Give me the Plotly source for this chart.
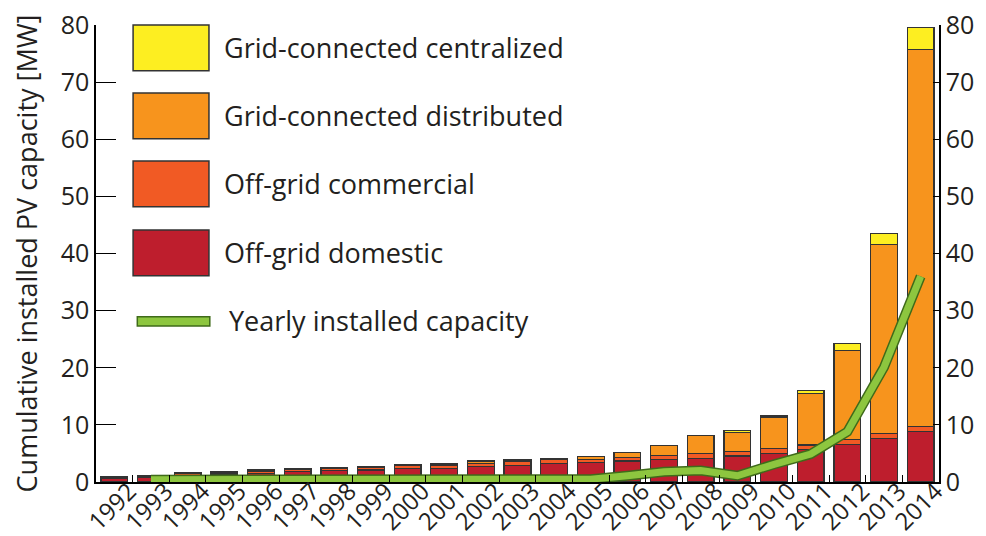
import plotly.graph_objects as go

years = [str(y) for y in range(1992, 2015)]

# cumulative installed capacity by segment [MW]
off_grid_domestic = [0.7, 0.9, 1.2, 1.4, 1.5, 1.8, 2.0, 2.1, 2.4, 2.4, 2.7, 2.9, 3.3,
                     3.4, 3.7, 3.95, 4.15, 4.55, 5.0, 5.7, 6.6, 7.65, 8.8]
off_grid_commercial = [0.2, 0.15, 0.3, 0.35, 0.4, 0.45, 0.45, 0.45, 0.6, 0.45, 0.6, 0.65, 0.6,
                       0.6, 0.65, 0.75, 0.85, 0.75, 0.9, 0.8, 0.9, 0.9, 0.9]
grid_distributed = [0.0, 0.0, 0.2, 0.15, 0.2, 0.1, 0.1, 0.2, 0.05, 0.3, 0.4, 0.3, 0.25,
                    0.5, 0.85, 1.7, 3.2, 3.4, 5.35, 9.0, 15.5, 33.0, 66.0]
grid_centralized = [0.0, 0.0, 0.0, 0.0, 0.0, 0.0, 0.0, 0.0, 0.0, 0.0, 0.0, 0.0, 0.0,
                    0.0, 0.0, 0.0, 0.0, 0.3, 0.3, 0.5, 1.3, 1.9, 3.9]

line_years = years[1:]
yearly_installed = [0.4, 0.4, 0.4, 0.4, 0.4, 0.4, 0.4, 0.4, 0.4, 0.4, 0.4, 0.4, 0.5,
                    1.1, 1.8, 2.0, 1.1, 3.1, 4.9, 8.8, 20.1, 36.0]

series = [
    ("Off-grid domestic", off_grid_domestic, "#BE1E2D"),
    ("Off-grid commercial", off_grid_commercial, "#F15A24"),
    ("Grid-connected distributed", grid_distributed, "#F7941D"),
    ("Grid-connected centralized", grid_centralized, "#FDEE21"),
]
line_name = "Yearly installed capacity"
green = "#8DC63F"
green_dark = "#3F6B1A"
ink = "#231F20"
font_family = "Open Sans"

fig = go.Figure()
for name, vals, col in series:
    fig.add_trace(go.Bar(x=years, y=vals, name=name, marker_color=col,
                         marker_line=dict(color="#333333", width=1.3)))

# dark edge under the green line
fig.add_trace(go.Scatter(x=line_years, y=yearly_installed, mode="lines", yaxis="y2",
                         line=dict(color=green_dark, width=10), hoverinfo="skip"))
fig.add_trace(go.Scatter(x=line_years, y=yearly_installed, mode="lines", yaxis="y2",
                         name=line_name, line=dict(color=green, width=7)))

# hand-made legend with large swatches
x0, x1 = 0.044, 0.134
box_tops = [0.5514, 0.7024, 0.851, 1.0]
shapes = []
annotations = []
for (name, vals, col), top in zip(series, box_tops):
    shapes.append(dict(type="rect", xref="paper", yref="paper", x0=x0, x1=x1,
                       y0=top - 0.1, y1=top, fillcolor=col,
                       line=dict(color="#333333", width=1.5)))
    annotations.append(dict(text=name, xref="paper", yref="paper", x=0.150, y=top - 0.05,
                            xanchor="left", yanchor="middle", showarrow=False,
                            font=dict(size=27, color=ink, family=font_family)))
shapes.append(dict(type="rect", xref="paper", yref="paper", x0=0.049, x1=0.135,
                   y0=0.3414, y1=0.3617, fillcolor=green,
                   line=dict(color=green_dark, width=1.5)))
annotations.append(dict(text=line_name, xref="paper", yref="paper", x=0.155, y=0.3523,
                        xanchor="left", yanchor="middle", showarrow=False,
                        font=dict(size=27, color=ink, family=font_family)))

# page body adds an 8px offset, margins compensate for it
fig.update_layout(
    width=986, height=536,
    margin=dict(l=88, r=55, t=17, b=62),
    barmode="stack", bargap=0.27,
    showlegend=False,
    plot_bgcolor="white", paper_bgcolor="white",
    font=dict(family=font_family, color=ink, size=24),
    shapes=shapes, annotations=annotations,
    xaxis=dict(type="category", tickangle=-45, tickson="boundaries", ticks="inside",
               ticklen=7, tickcolor="black", showline=True, linecolor="black", linewidth=1.5,
               showgrid=False, tickfont=dict(size=24), automargin=False,
               ticklabelstandoff=-16, ticklabelshift=15, ticklabeloverflow="allow"),
    yaxis=dict(range=[0, 80], dtick=10, ticks="inside", ticklen=20, tickcolor="black",
               showline=True, linecolor="black", linewidth=1.5, showgrid=False, zeroline=False,
               title=dict(text="Cumulative installed PV capacity [MW]", font=dict(size=27),
                          standoff=18),
               tickfont=dict(size=25), automargin=False, ticklabeloverflow="allow"),
    yaxis2=dict(range=[0, 80], dtick=10, overlaying="y", side="right", ticks="inside",
                ticklen=6, tickcolor="black", showline=True, linecolor="black", linewidth=1.5,
                showgrid=False, zeroline=False, tickfont=dict(size=25), automargin=False,
                ticklabeloverflow="allow"),
)

fig.write_html("out.html")
